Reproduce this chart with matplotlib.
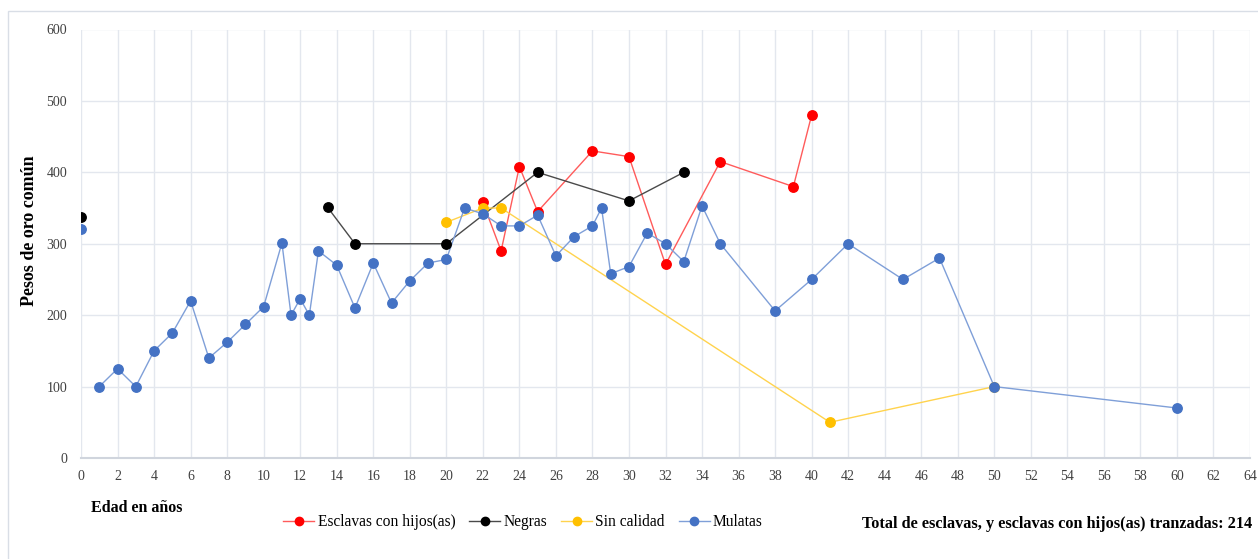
import matplotlib

matplotlib.use("Agg")

import matplotlib.pyplot as plt
from matplotlib.lines import Line2D
from matplotlib.patches import Rectangle

plt.rcParams["font.family"] = ["Liberation Serif", "DejaVu Serif"]

# Esclavas con hijos(as)
hijos_x = [22, 23, 24, 25, 28, 30, 32, 35, 39, 40]
hijos_y = [358, 290, 408, 345, 430, 422, 271, 415, 380, 480]

# Negras (el punto en 0 aparece aislado)
negras_x0, negras_y0 = [0], [338]
negras_x = [13.5, 15, 20, 25, 30, 33]
negras_y = [351, 300, 300, 400, 360, 400]

# Sin calidad
sin_x = [20, 22, 23, 41, 50]
sin_y = [330, 350, 350, 50, 100]

# Mulatas (el punto en 0 aparece aislado)
mulatas_x0, mulatas_y0 = [0], [320]
mulatas_x = [1, 2, 3, 4, 5, 6, 7, 8, 9, 10, 11, 11.5, 12, 12.5, 13, 14, 15, 16, 17, 18,
             19, 20, 21, 22, 23, 24, 25, 26, 27, 28, 28.5, 29, 30, 31, 32, 33, 34, 35,
             38, 40, 42, 45, 47, 50, 60]
mulatas_y = [100, 125, 100, 150, 175, 220, 140, 162, 187, 212, 301, 200, 223, 200, 290,
             270, 210, 273, 217, 248, 273, 278, 350, 342, 325, 325, 340, 283, 310, 325,
             350, 258, 268, 315, 300, 275, 353, 300, 206, 250, 300, 250, 280, 100, 70]

X_TICKS = list(range(0, 65, 2))
Y_TICKS = [0, 100, 200, 300, 400, 500, 600]

SERIES = [
    ("Esclavas con hijos(as)", "#FF0000", "#FF5B5B", None, None, hijos_x, hijos_y),
    ("Negras", "#000000", "#4A4A4A", negras_x0, negras_y0, negras_x, negras_y),
    ("Sin calidad", "#FFC000", "#FFD34D", None, None, sin_x, sin_y),
    ("Mulatas", "#4472C4", "#7F9FD8", mulatas_x0, mulatas_y0, mulatas_x, mulatas_y),
]

GRID_COLOR = "#E3E7EE"
MARKER_SIZE = 6.8

fig = plt.figure(figsize=(12.58, 5.59), dpi=100, facecolor="white")
ax = fig.add_axes((81 / 1258, 101 / 559, 1169 / 1258, 428.5 / 559))

# marco exterior del gráfico
fig.patches.append(Rectangle((8 / 1258, -0.05), 1.2, (559 - 11) / 559 + 0.05,
                             transform=fig.transFigure, fill=False,
                             edgecolor="#D9DEE6", linewidth=1.0, zorder=0))

handles = []
for label, marker_color, line_color, x0, y0, xs, ys in SERIES:
    ax.plot(xs, ys, color=line_color, linewidth=1.0, zorder=2)
    ax.plot(xs, ys, linestyle="none", marker="o", markersize=MARKER_SIZE,
            markerfacecolor=marker_color, markeredgecolor=marker_color, zorder=3)
    if x0 is not None:
        ax.plot(x0, y0, linestyle="none", marker="o", markersize=MARKER_SIZE,
                markerfacecolor=marker_color, markeredgecolor=marker_color, zorder=3)
    handles.append(Line2D([], [], color=line_color, linewidth=1.0, marker="o",
                          markersize=6, markerfacecolor=marker_color,
                          markeredgecolor=marker_color, label=label))

ax.set_xlim(0, 64)
ax.set_ylim(0, 600)
ax.set_xticks(X_TICKS)
ax.set_yticks(Y_TICKS)
ax.tick_params(axis="both", length=0, labelsize=10, colors="#404040")
ax.tick_params(axis="x", pad=9)
ax.tick_params(axis="y", pad=10)
ax.grid(True, color=GRID_COLOR, linewidth=1.0, zorder=0)
ax.set_axisbelow(True)
for side in ("top", "right", "left"):
    ax.spines[side].set_visible(False)
ax.spines["bottom"].set_color("#D0D5DD")
ax.spines["bottom"].set_linewidth(1.5)

fig.text(30 / 1258, 1 - 231 / 559, "Pesos de oro común", fontsize=13,
         fontweight="bold", rotation=90, ha="center", va="center")
fig.text(91 / 1258, 1 - 508 / 559, "Edad en años", fontsize=11.5,
         fontweight="bold", ha="left", va="center")
fig.text(1252 / 1258, 1 - 524 / 559,
         "Total de esclavas, y esclavas con hijos(as) tranzadas: 214",
         fontsize=11.7, fontweight="bold", ha="right", va="center")

fig.legend(handles=handles, loc="center", bbox_to_anchor=(523 / 1258, 1 - 522 / 559),
           ncol=4, frameon=False, fontsize=11.2, handlelength=2.0, handletextpad=0.2,
           columnspacing=0.9, borderaxespad=0)

fig.savefig("out.png", dpi=100, facecolor=fig.get_facecolor())
plt.close(fig)
